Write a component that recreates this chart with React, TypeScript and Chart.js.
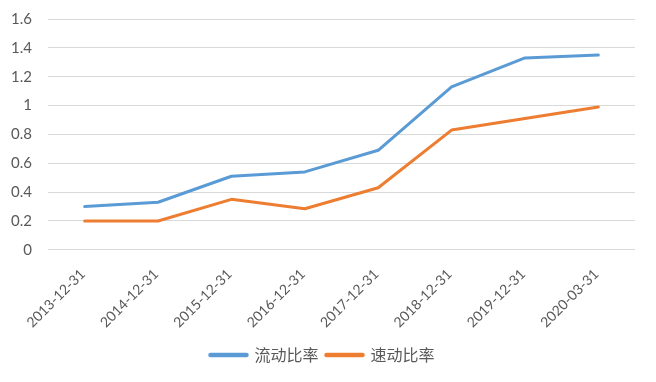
import React, { useEffect, useRef } from "react";
import { Chart, registerables } from "chart.js";

Chart.register(...registerables);

const categories = [
  "2013-12-31",
  "2014-12-31",
  "2015-12-31",
  "2016-12-31",
  "2017-12-31",
  "2018-12-31",
  "2019-12-31",
  "2020-03-31",
];
const currentRatio = [0.30, 0.33, 0.51, 0.54, 0.69, 1.13, 1.33, 1.35];
const quickRatio = [0.20, 0.20, 0.35, 0.285, 0.43, 0.83, 0.91, 0.99];
const seriesNames = ["流动比率", "速动比率"];
const yTicksMax = 1.6;
const yStep = 0.2;

const FONT = "Lato, 'Noto Sans CJK SC', sans-serif";
const LEGEND_FONT = "'Noto Sans CJK SC', Lato, sans-serif";
const TEXT = "#595959";

export default function App() {
  const ref = useRef<HTMLCanvasElement | null>(null);
  useEffect(() => {
    document.body.style.margin = "0";
    const chart = new Chart(ref.current!, {
      type: "line",
      data: {
        labels: categories,
        datasets: [
          {
            label: seriesNames[0],
            data: currentRatio,
            borderColor: "#5B9BD5",
            backgroundColor: "#5B9BD5",
            borderWidth: 3,
            pointRadius: 0,
            borderCapStyle: "round",
            borderJoinStyle: "round",
            tension: 0,
          },
          {
            label: seriesNames[1],
            data: quickRatio,
            borderColor: "#ED7D31",
            backgroundColor: "#ED7D31",
            borderWidth: 3,
            pointRadius: 0,
            borderCapStyle: "round",
            borderJoinStyle: "round",
            tension: 0,
          },
        ],
      },
      options: {
        animation: false,
        responsive: false,
        maintainAspectRatio: false,
        layout: { padding: { top: 19, right: 21, left: 10, bottom: 9 } },
        plugins: {
          tooltip: { enabled: false },
          legend: {
            position: "bottom",
            labels: {
              usePointStyle: true,
              pointStyle: "line",
              pointStyleWidth: 36,
              boxHeight: 5,
              padding: 8,
              color: TEXT,
              font: { family: LEGEND_FONT, size: 16 },
              generateLabels: (c: any) => {
                const items = Chart.defaults.plugins.legend.labels.generateLabels(c);
                items.forEach((it: any) => {
                  it.lineWidth = 4.5;
                  it.lineCap = "round";
                });
                return items;
              },
            },
          },
        },
        scales: {
          x: {
            offset: true,
            grid: { display: false },
            border: { display: false },
            ticks: {
              color: TEXT,
              font: { family: FONT, size: 14 },
              minRotation: 45,
              maxRotation: 45,
              labelOffset: -2,
              padding: 8,
            },
          },
          y: {
            min: 0,
            max: yTicksMax,
            border: { display: false },
            grid: {
              color: "#D9D9D9",
              drawTicks: true,
              tickLength: 16,
              tickColor: "rgba(0,0,0,0)",
              lineWidth: 1,
            },
            afterFit: (s: any) => {
              s.width = 38;
            },
            ticks: {
              stepSize: yStep,
              color: TEXT,
              font: { family: FONT, size: 15 },
              padding: 0,
              callback: (v: any) => String(+Number(v).toFixed(1)),
            },
          },
        },
      },
    });
    return () => chart.destroy();
  }, []);
  return (
    <div style={{ width: 656, height: 382, background: "#fff" }}>
      <canvas ref={ref} width={656} height={382} style={{ display: "block" }} />
    </div>
  );
}
